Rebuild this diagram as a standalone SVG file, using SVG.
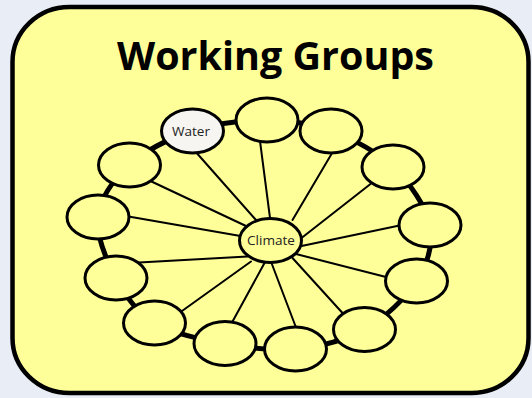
<svg xmlns="http://www.w3.org/2000/svg" width="532" height="398" viewBox="0 0 532 398">
<style>
.node{fill:#ffff99;stroke:#000;stroke-width:3}
.water{fill:#f6f5f1;stroke:#000;stroke-width:3}
.spoke{stroke:#000;stroke-width:2;fill:none;stroke-linecap:round}
.ring{stroke:#000;stroke-width:5;fill:none}
.lbl{font-family:"Open Sans","Liberation Sans",Arial,sans-serif;font-size:13.5px;fill:#222;text-anchor:middle}
.title{font-family:"Open Sans","Liberation Sans",Arial,sans-serif;font-size:39px;font-weight:bold;fill:#000;text-anchor:middle}
</style>
<rect x="0" y="0" width="532" height="398" fill="#e8edf6"/>
<g id="panel">
<rect x="12.5" y="7" width="516" height="386" rx="57" ry="55" fill="#ffff99" stroke="#000" stroke-width="4.5"/>
<text class="title" x="275.5" y="70" textLength="317" lengthAdjust="spacingAndGlyphs">Working Groups</text>
</g>
<g id="connectors">
<path class="ring" d="M192.5 131 C215.42 123.5 243.92 120 267 120 C290.08 120 310 123.17 331 131 C352 138.83 376.5 151.33 393 167 C409.5 182.67 426.08 206 430 225 C433.92 244 427.42 263.58 416.5 281 C405.58 298.42 384.67 318.17 364.5 329.5 C344.330 340.83 318.75 346.67 295.5 349 C272.25 351.33 248.5 347.83 225 343.5 C201.5 339.17 172.67 333.92 154.5 323 C136.33 312.08 125.42 295.67 116 278 C106.58 260.33 95.75 235.83 98 217 C100.25 198.17 113.75 179.33 129.5 165 C145.25 150.67 169.58 138.5 192.5 131 Z"/>
<line class="spoke" x1="196.7" y1="153" x2="256" y2="220"/>
<line class="spoke" x1="260" y1="141" x2="270" y2="218"/>
<line class="spoke" x1="331.5" y1="154" x2="292.5" y2="220"/>
<line class="spoke" x1="370.5" y1="184" x2="301.5" y2="238"/>
<line class="spoke" x1="399.5" y1="225.5" x2="301.5" y2="246"/>
<line class="spoke" x1="386" y1="277" x2="296" y2="254"/>
<line class="spoke" x1="342.5" y1="313" x2="292.5" y2="258"/>
<line class="spoke" x1="296" y1="327.5" x2="271.5" y2="263"/>
<line class="spoke" x1="232" y1="322.5" x2="264.5" y2="263"/>
<line class="spoke" x1="182" y1="311" x2="251" y2="261.5"/>
<line class="spoke" x1="139" y1="262.5" x2="247.5" y2="256.5"/>
<line class="spoke" x1="128.5" y1="216.5" x2="240.5" y2="236"/>
<line class="spoke" x1="151.5" y1="181.5" x2="246" y2="226"/>
</g>
<g id="water"><ellipse class="water" cx="192.5" cy="131" rx="31" ry="22"/><text class="lbl" x="191" y="135.5" textLength="38" lengthAdjust="spacingAndGlyphs">Water</text></g>
<g id="n2"><ellipse class="node" cx="267" cy="120" rx="31" ry="22"/></g>
<g id="n3"><ellipse class="node" cx="331" cy="131" rx="31" ry="22"/></g>
<g id="n4"><ellipse class="node" cx="393" cy="167" rx="31" ry="22"/></g>
<g id="n5"><ellipse class="node" cx="430" cy="225" rx="31" ry="22"/></g>
<g id="n6"><ellipse class="node" cx="416.5" cy="281" rx="31" ry="22"/></g>
<g id="n7"><ellipse class="node" cx="364.5" cy="329.5" rx="31" ry="22"/></g>
<g id="n8"><ellipse class="node" cx="295.5" cy="349" rx="31" ry="22"/></g>
<g id="n9"><ellipse class="node" cx="225" cy="343.5" rx="31" ry="22"/></g>
<g id="n10"><ellipse class="node" cx="154.5" cy="323" rx="31" ry="22"/></g>
<g id="n11"><ellipse class="node" cx="116" cy="278" rx="31" ry="22"/></g>
<g id="n12"><ellipse class="node" cx="98" cy="217" rx="31" ry="22"/></g>
<g id="n13"><ellipse class="node" cx="129.5" cy="165" rx="31" ry="22"/></g>
<g id="climate"><ellipse class="node" cx="270.5" cy="240.5" rx="31" ry="22"/><text class="lbl" x="271" y="245" textLength="48" lengthAdjust="spacingAndGlyphs">Climate</text></g>
</svg>
